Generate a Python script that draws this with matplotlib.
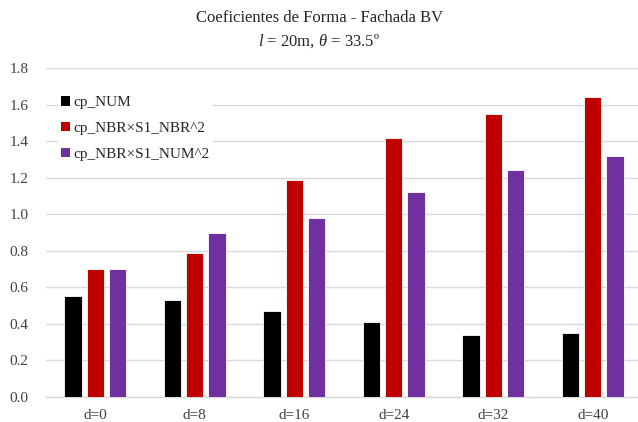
import numpy as np
import matplotlib
matplotlib.use("Agg")
import matplotlib.pyplot as plt
from matplotlib.patches import Patch

plt.rcParams["font.family"] = ["Liberation Serif", "DejaVu Serif"]
plt.rcParams["mathtext.fontset"] = "custom"
plt.rcParams["mathtext.rm"] = "Liberation Serif"
plt.rcParams["mathtext.it"] = "Liberation Serif:italic"

categories = ["d=0", "d=8", "d=16", "d=24", "d=32", "d=40"]
series_names = ["cp_NUM", "cp_NBR×S1_NBR^2", "cp_NBR×S1_NUM^2"]
cp_num = [0.55, 0.53, 0.47, 0.41, 0.34, 0.35]
cp_nbr_s1_nbr = [0.70, 0.79, 1.19, 1.42, 1.55, 1.64]
cp_nbr_s1_num = [0.70, 0.90, 0.98, 1.12, 1.24, 1.32]
yticks = [0.0, 0.2, 0.4, 0.6, 0.8, 1.0, 1.2, 1.4, 1.6, 1.8]

colors = ["#000000", "#C00000", "#7030A0"]
grid_c = "#D9D9D9"
text_c = "#404040"

fig = plt.figure(figsize=(6.38, 4.22), dpi=100)
W, H = 638, 422
ax = fig.add_axes([45.5 / W, 1 - 396.7 / H, 597 / W, (396.7 - 68.3) / H])

x = np.arange(len(categories))
width = 0.175
pitch = 0.222
for i, (vals, c) in enumerate(zip([cp_num, cp_nbr_s1_nbr, cp_nbr_s1_num], colors)):
    ax.bar(x + (i - 1) * pitch, vals, width, color=c, edgecolor="white",
           linewidth=0.6, zorder=3)

ax.set_xlim(-0.5, len(categories) - 0.5)
ax.set_ylim(0, 1.8)
ax.set_yticks(yticks)
ax.set_yticklabels([f"{v:.1f}" for v in yticks])
ax.set_xticks(x)
ax.set_xticklabels(categories)
ax.yaxis.grid(True, color=grid_c, linewidth=1.0, zorder=0)
ax.set_axisbelow(True)
for s in ["top", "right", "left"]:
    ax.spines[s].set_visible(False)
ax.spines["bottom"].set_color(grid_c)
ax.spines["bottom"].set_linewidth(1.0)
ax.tick_params(axis="both", length=0, labelsize=11, colors=text_c)
ax.tick_params(axis="y", pad=12)
ax.tick_params(axis="x", pad=9)

handles = [Patch(facecolor=c, edgecolor="none") for c in colors]
leg = ax.legend(handles, series_names, loc="upper left",
                bbox_to_anchor=(0.021, 0.925), frameon=True, fontsize=11,
                handlelength=0.6, handleheight=0.6, handletextpad=0.2,
                labelspacing=0.82, borderpad=0.2, borderaxespad=0)
leg.get_frame().set_facecolor("white")
leg.get_frame().set_edgecolor("none")
leg.get_frame().set_alpha(1.0)
for t in leg.get_texts():
    t.set_color("#262626")

fig.text(0.5, 1 - 18 / H, "Coeficientes de Forma - Fachada BV",
         ha="center", va="center", fontsize=12, color="#262626")
fig.text(0.5, 1 - 41 / H, r"$l$ = 20m, $\theta$ = 33.5º",
         ha="center", va="center", fontsize=12, color="#262626")

fig.savefig("out.png", dpi=100, facecolor="white")
